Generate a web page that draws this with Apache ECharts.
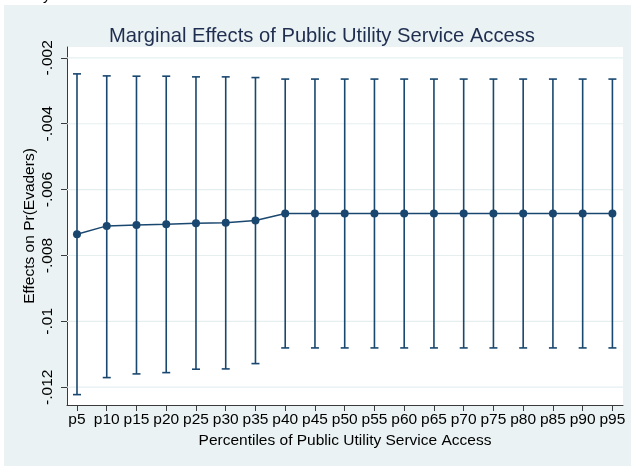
<!DOCTYPE html>
<html>
<head>
<meta charset="utf-8">
<style>
  html, body { margin: 0; padding: 0; background: #ffffff; }
  #chart { width: 633px; height: 466px; }
</style>
<script src="https://cdn.jsdelivr.net/npm/echarts@6/dist/echarts.min.js"></script>
</head>
<body>
<div id="chart"></div>
<script>
// Percentile categories of public utility service access
const categories = ['p5','p10','p15','p20','p25','p30','p35','p40','p45','p50',
                    'p55','p60','p65','p70','p75','p80','p85','p90','p95'];

// Marginal effect on Pr(Evaders) at each percentile
const effects = [-0.007354, -0.007102, -0.007071, -0.00705, -0.00702, -0.00701, -0.00694,
                 -0.006728, -0.006728, -0.006728, -0.006728, -0.006728, -0.006728,
                 -0.006728, -0.006728, -0.006728, -0.006728, -0.006728, -0.006728];

// 95% confidence bounds
const upperCI = [-0.002486, -0.002547, -0.002556, -0.002556, -0.002577, -0.002577, -0.002598,
                 -0.002644, -0.002644, -0.002644, -0.002644, -0.002644, -0.002644,
                 -0.002644, -0.002644, -0.002644, -0.002644, -0.002644, -0.002644];
const lowerCI = [-0.012225, -0.011708, -0.011596, -0.011557, -0.011453, -0.011444, -0.011283,
                 -0.010807, -0.010807, -0.010807, -0.010807, -0.010807, -0.010807,
                 -0.010807, -0.010807, -0.010807, -0.010807, -0.010807, -0.010807];

// Y axis ticks and their printed labels
const yTicks = [-0.002, -0.004, -0.006, -0.008, -0.01, -0.012];
const yTickLabels = ['-.002', '-.004', '-.006', '-.008', '-.01', '-.012'];

const FONT = 'Liberation Sans, Arial, Helvetica, sans-serif';
const NAVY = '#1a476f';

const xIdx = categories.map((_, i) => i);
const lineData = effects.map((v, i) => [i, v]);
const capData = xIdx.map(i => [i, lowerCI[i], upperCI[i]]);

const chart = echarts.init(document.getElementById('chart'), null, { renderer: 'canvas' });

chart.setOption({
  animation: false,
  backgroundColor: '#ffffff',
  graphic: [
    {
      type: 'rect', z: -10, silent: true,
      shape: { x: 4, y: 5, width: 627, height: 461 },
      style: { fill: '#eaf2f3' }
    },
    {
      type: 'text', silent: true,
      style: { x: 43, y: -12, text: 'y', font: '15px ' + FONT, fill: '#000', verticalAlign: 'top' }
    }
  ],
  title: {
    text: 'Marginal Effects of Public Utility Service Access',
    left: 104, top: 21,
    textStyle: { fontFamily: FONT, fontSize: 20.2, fontWeight: 'normal', color: '#1f2d4f' }
  },
  grid: {
    left: 67, top: 47, width: 556, height: 358,
    show: true, backgroundColor: '#ffffff', borderWidth: 0
  },
  xAxis: {
    type: 'value',
    min: -0.336, max: 18.356,
    name: 'Percentiles of Public Utility Service Access',
    nameLocation: 'middle', nameGap: 28, nameMoveOverlap: false,
    nameTextStyle: { fontFamily: FONT, fontSize: 15.5, color: '#000' },
    axisLine: { show: true, onZero: false, lineStyle: { color: '#3a3a3a', width: 1 } },
    axisTick: { show: true, length: 6, customValues: xIdx, lineStyle: { color: '#3a3a3a' } },
    axisLabel: {
      customValues: xIdx, margin: 7,
      fontFamily: FONT, fontSize: 15.5, color: '#000',
      formatter: v => categories[Math.round(v)]
    },
    splitLine: { show: false }
  },
  yAxis: {
    type: 'value',
    min: -0.01254, max: -0.00167,
    name: 'Effects on Pr(Evaders)',
    nameLocation: 'middle', nameGap: 29, nameMoveOverlap: false,
    nameTextStyle: { fontFamily: FONT, fontSize: 15.5, color: '#000' },
    axisLine: { show: true, onZero: false, lineStyle: { color: '#3a3a3a', width: 1 } },
    axisTick: { show: true, length: 6, customValues: yTicks, lineStyle: { color: '#3a3a3a' } },
    axisLabel: {
      customValues: yTicks, rotate: 90, margin: 11,
      fontFamily: FONT, fontSize: 15.5, color: '#000',
      formatter: v => {
        const k = yTicks.findIndex(t => Math.abs(t - v) < 1e-9);
        return k >= 0 ? yTickLabels[k] : '';
      }
    },
    splitLine: { show: false }
  },
  series: [
    {
      // light horizontal grid lines at each y tick, spanning the plot region
      type: 'custom', z: 1, silent: true,
      data: yTicks.map(t => [0, t]),
      renderItem: (params, api) => {
        const cs = params.coordSys;
        const y = api.coord([0, api.value(1)])[1];
        return {
          type: 'line',
          shape: { x1: cs.x, y1: y, x2: cs.x + cs.width, y2: y },
          style: { stroke: '#e6eff0', lineWidth: 1.2 }
        };
      }
    },
    {
      // confidence interval caps
      type: 'custom', z: 3,
      data: capData,
      renderItem: (params, api) => {
        const x = api.value(0);
        const lo = api.coord([x, api.value(1)]);
        const hi = api.coord([x, api.value(2)]);
        const hw = 4;
        const st = { stroke: NAVY, lineWidth: 1.6, fill: null };
        return {
          type: 'group',
          children: [
            { type: 'line', shape: { x1: lo[0], y1: lo[1], x2: hi[0], y2: hi[1] }, style: st },
            { type: 'line', shape: { x1: lo[0] - hw, y1: lo[1], x2: lo[0] + hw, y2: lo[1] }, style: st },
            { type: 'line', shape: { x1: hi[0] - hw, y1: hi[1], x2: hi[0] + hw, y2: hi[1] }, style: st }
          ]
        };
      }
    },
    {
      type: 'line', z: 4,
      data: lineData,
      symbol: 'circle', symbolSize: 8,
      lineStyle: { color: NAVY, width: 1.5 },
      itemStyle: { color: NAVY }
    }
  ]
});
</script>
</body>
</html>
